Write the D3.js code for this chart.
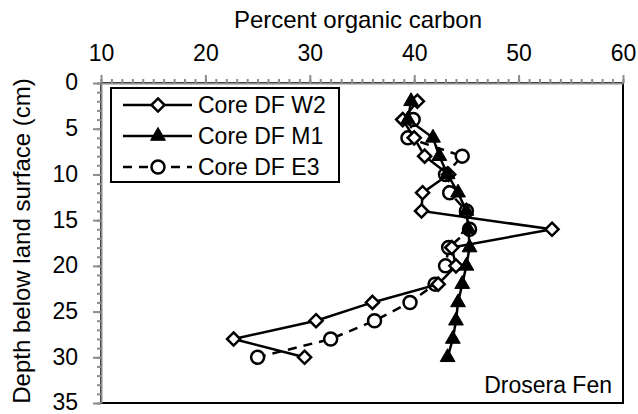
<!DOCTYPE html>
<html>
<head>
<meta charset="utf-8">
<script src="https://cdn.jsdelivr.net/npm/d3@7"></script>
<style>
  body { margin: 0; background: white; }
  svg { display: block; font-family: "Liberation Sans", Arial, sans-serif; }
</style>
</head>
<body>
<svg width="638" height="414"></svg>
<script>
'use strict';
// values
const depthW2 = [2, 4, 6, 8, 10, 12, 14, 16, 18, 20, 22, 24, 26, 28, 30];
const carbonW2 = [40.3, 38.9, 40.0, 41.0, 43.3, 40.8, 40.7, 53.2, 43.6, 44.0, 42.3, 36.0, 30.6, 22.7, 29.5];
const depthM1 = [2, 4, 6, 8, 10, 12, 14, 16, 18, 20, 22, 24, 26, 28, 30];
const carbonM1 = [39.7, 39.4, 41.8, 42.4, 43.2, 44.2, 45.0, 45.2, 45.3, 45.0, 44.6, 44.2, 44.0, 43.7, 43.2];
const depthE3 = [4, 6, 8, 10, 12, 14, 16, 18, 20, 22, 24, 26, 28, 30];
const carbonE3 = [39.9, 39.4, 44.6, 43.0, 43.4, 45.0, 45.3, 43.3, 43.0, 42.0, 39.6, 36.2, 32.0, 25.0];
const xTicks = [10, 20, 30, 40, 50, 60];
const yTicks = [0, 5, 10, 15, 20, 25, 30, 35];
const seriesNames = ['Core DF W2', 'Core DF M1', 'Core DF E3'];

(() => {
  const margin = { top: 83, left: 101 };
  const width = 522, height = 320;
  const fontSize = 23;

  var svg = d3.select('svg');
  var g = svg.append('g').attr('transform', `translate(${margin.left},${margin.top})`);

  var x = d3.scaleLinear().domain([10, 60]).range([0, width]);
  var y = d3.scaleLinear().domain([0, 35]).range([0, height]);

  // plot frame (right + bottom show black)
  g.append('rect')
    .attr('width', width).attr('height', height)
    .attr('fill', 'none').attr('stroke', 'black').attr('stroke-width', 2);

  // minor ticks
  g.append('g').call(d3.axisTop(x).tickValues(d3.range(10, 61, 1)).tickSize(4).tickFormat(''))
    .call(a => a.select('.domain').remove());
  g.append('g').call(d3.axisLeft(y).tickValues(d3.range(0, 36, 1)).tickSize(4).tickFormat(''))
    .call(a => a.select('.domain').remove());

  g.append('g')
    .call(d3.axisTop(x).tickValues(xTicks).tickSize(8).tickSizeOuter(0).tickPadding(14));
  g.append('g')
    .call(d3.axisLeft(y).tickValues(yTicks).tickSize(8).tickSizeOuter(0).tickPadding(15))
    .selectAll('text').attr('dy', '0.3em');

  g.selectAll('.tick line, .domain')
    .attr('stroke', '#8c8c8c').attr('stroke-width', 2);
  g.selectAll('.tick text')
    .attr('font-size', fontSize).attr('font-family', '"Liberation Sans", Arial, sans-serif')
    .attr('fill', 'black');

  svg.append('text')
    .attr('x', 358).attr('y', 28)
    .attr('text-anchor', 'middle').attr('font-size', 24)
    .text('Percent organic carbon');
  svg.append('text')
    .attr('transform', 'translate(30,241) rotate(-90)')
    .attr('text-anchor', 'middle').attr('font-size', 24)
    .text('Depth below land surface (cm)');

  const diamond = d3.symbol().type(d3.symbolDiamond2).size(110)();
  const triangle = d3.symbol().type(d3.symbolTriangle).size(95)();

  var series = [
    { name: seriesNames[0], pts: d3.zip(carbonW2, depthW2), dash: null, marker: 'diamond' },
    { name: seriesNames[1], pts: d3.zip(carbonM1, depthM1), dash: null, marker: 'triangle' },
    { name: seriesNames[2], pts: d3.zip(carbonE3, depthE3), dash: '9,7', marker: 'circle' }
  ];

  var line = d3.line().x(d => x(d[0])).y(d => y(d[1]));

  function drawMarker(sel, kind) {
    if (kind == 'diamond') {
      sel.append('path').attr('d', diamond)
        .attr('fill', 'white').attr('stroke', 'black').attr('stroke-width', 2.5);
    } else if (kind == 'triangle') {
      sel.append('path').attr('d', triangle).attr('fill', 'black')
        .attr('stroke', 'black').attr('stroke-width', 1);
    } else {
      sel.append('circle').attr('r', 6.5)
        .attr('fill', 'white').attr('stroke', 'black').attr('stroke-width', 2.5);
    }
  }

  // draw E3 first, then W2, then M1 on top
  [series[2], series[0], series[1]].forEach(s => {
    g.append('path').datum(s.pts)
      .attr('d', line)
      .attr('fill', 'none').attr('stroke', 'black').attr('stroke-width', 2.5)
      .attr('stroke-dasharray', s.dash);
    g.selectAll(null).data(s.pts).enter().append('g')
      .attr('transform', d => `translate(${x(d[0])},${y(d[1])})`)
      .each(function () { drawMarker(d3.select(this), s.marker); });
  });

  // legend
  var legend = svg.append('g').attr('transform', 'translate(111,88)');
  legend.append('rect')
    .attr('width', 228).attr('height', 94)
    .attr('fill', 'white').attr('stroke', 'black').attr('stroke-width', 2);
  series.forEach((s, i) => {
    var row = legend.append('g').attr('transform', `translate(0,${17 + i * 31})`);
    row.append('line')
      .attr('x1', 12).attr('x2', 81)
      .attr('stroke', 'black').attr('stroke-width', 2.5)
      .attr('stroke-dasharray', s.dash);
    drawMarker(row.append('g').attr('transform', 'translate(47,0)'), s.marker);
    row.append('text')
      .attr('x', 87).attr('dy', '0.35em').attr('font-size', fontSize)
      .text(s.name);
  });

  svg.append('text')
    .attr('x', margin.left + width - 11).attr('y', margin.top + height - 10)
    .attr('text-anchor', 'end').attr('font-size', fontSize)
    .text('Drosera Fen');
})();
</script>
</body>
</html>
